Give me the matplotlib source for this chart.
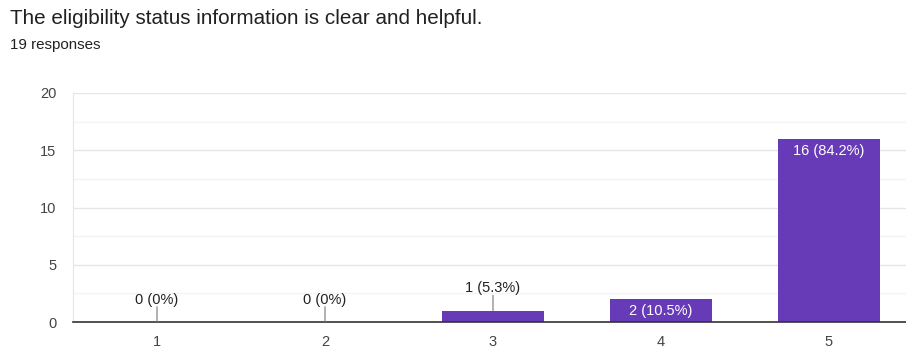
import numpy as np
import matplotlib.pyplot as plt

plt.rcParams['font.family'] = ['Liberation Sans', 'DejaVu Sans']

# survey answers (rating 1..5) and counts
ratings = ['1', '2', '3', '4', '5']
counts = [0, 0, 1, 2, 16]
total = 19
title = 'The eligibility status information is clear and helpful.'
subtitle = '19 responses'

fig = plt.figure(figsize=(9.06, 3.47), dpi=100)
ax = fig.add_axes([73/906, 1-322/347, 840/906, 229/347])

x = np.arange(len(ratings))
ax.bar(x, counts, width=0.61, color='#673ab7', zorder=3)

ax.set_xlim(-0.5, 4.5)
ax.set_ylim(0, 20)
ax.set_yticks([0, 5, 10, 15, 20])
ax.set_yticks([2.5, 7.5, 12.5, 17.5], minor=True)
ax.set_xticks(x)
ax.set_xticklabels(ratings)
ax.grid(axis='y', which='major', color='#e6e6e6', lw=1, zorder=0)
ax.grid(axis='y', which='minor', color='#f3f3f3', lw=1, zorder=0)
ax.tick_params(axis='both', which='both', length=0, labelsize=10.5, colors='#444444')
ax.tick_params(axis='x', pad=9)
ax.tick_params(axis='y', pad=12)
for s in ['top', 'right']:
    ax.spines[s].set_visible(False)
ax.spines['left'].set_color('#e6e6e6')
ax.spines['bottom'].set_color('#333333')
ax.spines['bottom'].set_linewidth(1.2)
ax.spines['bottom'].set_zorder(4)

# value labels
for xi, c in zip(x, counts):
    pct = c / total * 100
    lab = '%d (%s%%)' % (c, ('%.1f' % pct).rstrip('0').rstrip('.') if pct else '0')
    if c >= 2:
        ax.annotate(lab, (xi, c), xytext=(0, -3.5), textcoords='offset points',
                    ha='center', va='top', color='white', fontsize=10.5, zorder=5)
    else:
        ax.annotate('', (xi, c), xytext=(0, 11), textcoords='offset points',
                    arrowprops=dict(arrowstyle='-', color='#777777', lw=0.8,
                                    shrinkA=0, shrinkB=0), zorder=5)
        ax.annotate(lab, (xi, c), xytext=(0, 11), textcoords='offset points',
                    ha='center', va='bottom', color='#222222', fontsize=10.5, zorder=5)

fig.text(10/906, 1-24/347, title, fontsize=14.9, color='#202124', va='baseline')
fig.text(10/906, 1-49/347, subtitle, fontsize=10.9, color='#202124', va='baseline')

fig.savefig('out.png', dpi=100)
